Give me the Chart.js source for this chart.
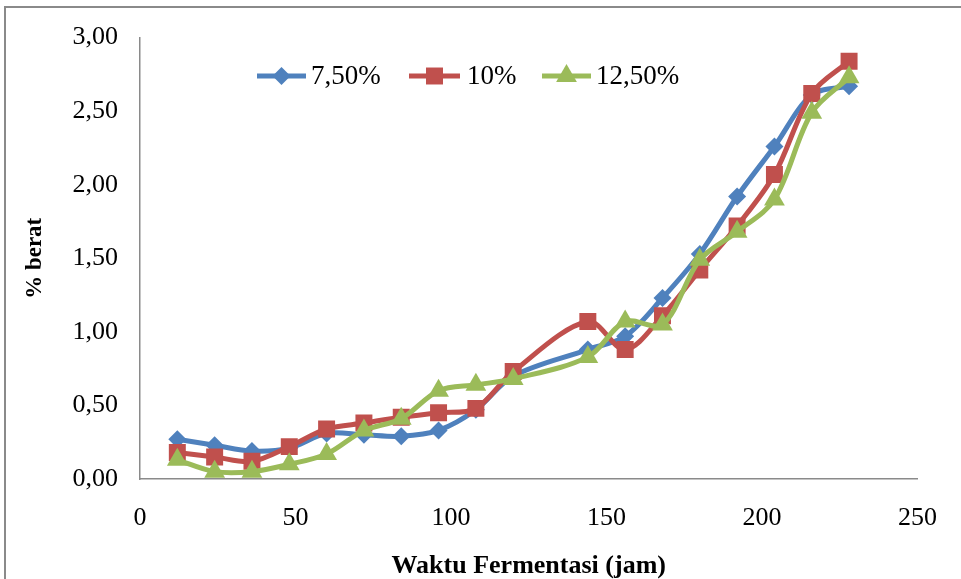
<!DOCTYPE html>
<html>
<head>
<meta charset="utf-8">
<script src="https://cdn.jsdelivr.net/npm/chart.js@4/dist/chart.umd.min.js"></script>
<style>
  html, body { margin: 0; padding: 0; background: #ffffff; }
  #wrap { position: relative; width: 961px; height: 579px; }
</style>
</head>
<body>
<div id="wrap"><canvas id="c" width="961" height="579"></canvas></div>
<script>
// ---- data ----
const hours = [12, 24, 36, 48, 60, 72, 84, 96, 108, 120, 144, 156, 168, 180, 192, 204, 216, 228];
const seriesNames = ['7,50%', '10%', '12,50%'];
const conc750 = [0.27, 0.23, 0.19, 0.21, 0.31, 0.30, 0.29, 0.33, 0.47, 0.70, 0.88, 0.97, 1.23, 1.53, 1.92, 2.26, 2.61, 2.67];
const conc1000 = [0.18, 0.15, 0.12, 0.22, 0.34, 0.38, 0.42, 0.45, 0.48, 0.73, 1.07, 0.88, 1.11, 1.42, 1.72, 2.07, 2.62, 2.84];
const conc1250 = [0.13, 0.05, 0.05, 0.10, 0.17, 0.33, 0.41, 0.60, 0.64, 0.68, 0.83, 1.07, 1.05, 1.49, 1.68, 1.90, 2.49, 2.73];
const xTicks = [0, 50, 100, 150, 200, 250];
const yTicks = [0, 0.5, 1, 1.5, 2, 2.5, 3];
const xTitle = 'Waktu Fermentasi (jam)';
const yTitle = '% berat';

const colors = ['#4F81BD', '#C0504D', '#9BBB59'];
const styles = ['rectRot', 'rect', 'triangle'];
const radii = [9, 12, 12];

function toPoints(arr) { return hours.map((h, i) => ({ x: h, y: arr[i] })); }
const values = [conc750, conc1000, conc1250];

const datasets = values.map((v, i) => ({
  label: seriesNames[i],
  data: toPoints(v),
  borderColor: colors[i],
  backgroundColor: colors[i],
  borderWidth: 5,
  pointStyle: styles[i],
  pointRadius: radii[i],
  pointHoverRadius: radii[i],
  pointBorderWidth: 0,
  pointBackgroundColor: colors[i],
  tension: 0.33,
  order: 2 - i
}));

const SERIF = "'Liberation Serif', 'Times New Roman', serif";

const frame = {
  id: 'frame',
  beforeDraw(chart) {
    const ctx = chart.ctx;
    ctx.save();
    ctx.fillStyle = '#ffffff';
    ctx.fillRect(0, 0, chart.width, chart.height);
    ctx.strokeStyle = '#8a8a8a';
    ctx.lineWidth = 2;
    ctx.strokeRect(5, 7, 1000, 1000);
    ctx.restore();
  }
};

const legendBox = {
  id: 'legendBox',
  afterDraw(chart) {
    const ctx = chart.ctx;
    const items = [
      { x0: 257, x1: 306, text: 311 },
      { x0: 409, x1: 460, text: 467 },
      { x0: 542, x1: 591, text: 596 }
    ];
    const y = 76;
    ctx.save();
    items.forEach((it, i) => {
      ctx.strokeStyle = colors[i];
      ctx.lineWidth = 5;
      ctx.beginPath();
      ctx.moveTo(it.x0, y);
      ctx.lineTo(it.x1, y);
      ctx.stroke();
      ctx.fillStyle = colors[i];
      Chart.helpers.drawPoint(ctx, { pointStyle: styles[i], radius: radii[i], rotation: 0, borderWidth: 0 }, (it.x0 + it.x1) / 2, y);
      ctx.fillStyle = '#000000';
      ctx.font = '27px ' + SERIF;
      ctx.textBaseline = 'middle';
      ctx.textAlign = 'left';
      ctx.fillText(seriesNames[i], it.text, y + 1);
    });
    ctx.restore();
  }
};

new Chart(document.getElementById('c'), {
  type: 'line',
  data: { datasets },
  options: {
    responsive: false,
    animation: false,
    events: [],
    layout: { padding: { left: 0, right: 30, top: 37, bottom: 0 } },
    plugins: { legend: { display: false }, tooltip: { enabled: false } },
    scales: {
      x: {
        type: 'linear',
        min: 0, max: 250,
        afterBuildTicks: (s) => { s.ticks = xTicks.map(v => ({ value: v })); },
        afterFit: (s) => { s.height = 100; },
        grid: { display: false, drawTicks: false, tickLength: 0 },
        border: { display: true, color: '#8a8a8a', width: 1.5 },
        ticks: { color: '#000', padding: 24, font: { family: SERIF, size: 26 }, maxRotation: 0 },
        title: { display: true, text: xTitle, color: '#000', padding: 0, font: { family: SERIF, size: 26, weight: 'bold', lineHeight: 1 } }
      },
      y: {
        type: 'linear',
        min: 0, max: 3,
        afterBuildTicks: (s) => { s.ticks = yTicks.map(v => ({ value: v })); },
        afterFit: (s) => { s.width = 140; },
        grid: { display: false, drawTicks: false, tickLength: 0 },
        border: { display: true, color: '#8a8a8a', width: 1.5 },
        ticks: {
          color: '#000', padding: 22, font: { family: SERIF, size: 26 },
          callback: (v) => Number(v).toFixed(2).replace('.', ',')
        },
        title: { display: true, text: yTitle, color: '#000', padding: { top: 24, bottom: 0 }, font: { family: SERIF, size: 23, weight: 'bold', lineHeight: 1 } }
      }
    }
  },
  plugins: [frame, legendBox]
});
</script>
</body>
</html>
